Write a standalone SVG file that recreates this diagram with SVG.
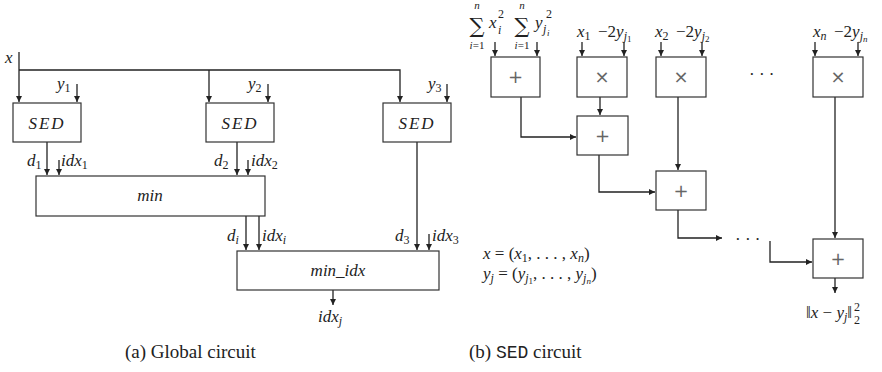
<svg xmlns="http://www.w3.org/2000/svg" width="882" height="372" viewBox="0 0 882 372">
<style>
.box{fill:#fff;stroke:#333;stroke-width:1.2}
.ln{fill:none;stroke:#222;stroke-width:1.3}
.ar{marker-end:url(#ah)}
text{font-family:"Liberation Serif","DejaVu Serif","Times New Roman",serif;fill:#222}
.m{font-style:italic;font-size:17px}
.r{font-size:17px}
.n{font-style:normal}
.op{font-family:"DejaVu Sans",sans-serif;font-size:18px;fill:#666}
.cap{font-size:19px}
.mono{font-family:"Liberation Mono","DejaVu Sans Mono",monospace}
.sm{font-size:11px}
.sub{font-size:12px}
.ss{font-size:9px}
.sig{font-family:"DejaVu Serif",serif;font-size:21px;font-style:normal}
</style>
<defs>
<marker id="ah" markerUnits="userSpaceOnUse" markerWidth="8" markerHeight="8" refX="6" refY="3" orient="auto">
<path d="M0,0 L6,3 L0,6 Z" fill="#222"/>
</marker>
</defs>

<g id="connectors">
<path class="ln ar" d="M19,52 V102"/>
<path class="ln ar" d="M19,70 H400 V102"/>
<path class="ln ar" d="M209,70 V102"/>
<path class="ln ar" d="M77,84 V102"/>
<path class="ln ar" d="M268,84 V102"/>
<path class="ln ar" d="M447,84 V102"/>
<path class="ln ar" d="M47,142 V175"/>
<path class="ln ar" d="M59,160 V175"/>
<path class="ln ar" d="M237,142 V175"/>
<path class="ln ar" d="M248,160 V175"/>
<path class="ln ar" d="M246,216 V250"/>
<path class="ln ar" d="M259,216 V250"/>
<path class="ln ar" d="M417,142 V250"/>
<path class="ln ar" d="M429,234 V250"/>
<path class="ln ar" d="M333,290 V305"/>

<path class="ln ar" d="M495,42 V56"/>
<path class="ln ar" d="M537,42 V56"/>
<path class="ln ar" d="M582,42 V56"/>
<path class="ln ar" d="M624,42 V56"/>
<path class="ln ar" d="M661,42 V56"/>
<path class="ln ar" d="M702,42 V56"/>
<path class="ln ar" d="M815,42 V56"/>
<path class="ln ar" d="M858,42 V56"/>
<path class="ln ar" d="M600,97 V115"/>
<path class="ln ar" d="M521,97 V137 H576"/>
<path class="ln ar" d="M678,97 V170"/>
<path class="ln ar" d="M599,155 V192 H655"/>
<path class="ln ar" d="M678,210 V238 H722"/>
<path class="ln ar" d="M770,241 V262 H812"/>
<path class="ln ar" d="M835,97 V238"/>
<path class="ln ar" d="M835,278 V293"/>
</g>

<g id="labels-left">
<text class="m" x="5" y="63">x</text>
<text class="m" x="57" y="89">y<tspan class="sub n" dy="3">1</tspan></text>
<text class="m" x="248" y="89">y<tspan class="sub n" dy="3">2</tspan></text>
<text class="m" x="428" y="89">y<tspan class="sub n" dy="3">3</tspan></text>
<text class="m" x="27" y="166">d<tspan class="sub n" dy="3">1</tspan></text>
<text class="m" x="61" y="166">idx<tspan class="sub n" dy="3">1</tspan></text>
<text class="m" x="214" y="166">d<tspan class="sub n" dy="3">2</tspan></text>
<text class="m" x="251" y="166">idx<tspan class="sub n" dy="3">2</tspan></text>
<text class="m" x="227" y="241">d<tspan class="sub" dy="3">i</tspan></text>
<text class="m" x="262" y="241">idx<tspan class="sub" dy="3">i</tspan></text>
<text class="m" x="395" y="241">d<tspan class="sub n" dy="3">3</tspan></text>
<text class="m" x="432" y="241">idx<tspan class="sub n" dy="3">3</tspan></text>
<text class="m" x="318" y="322">idx<tspan class="sub" dy="3">j</tspan></text>
</g>

<g id="sed1"><rect class="box" x="13" y="103" width="68" height="39"/><text class="m" x="47" y="129" text-anchor="middle" letter-spacing="2">SED</text></g>
<g id="sed2"><rect class="box" x="206" y="103" width="68" height="39"/><text class="m" x="240" y="129" text-anchor="middle" letter-spacing="2">SED</text></g>
<g id="sed3"><rect class="box" x="383" y="103" width="68" height="39"/><text class="m" x="417" y="129" text-anchor="middle" letter-spacing="2">SED</text></g>
<g id="min"><rect class="box" x="36" y="176" width="229" height="40"/><text class="m" x="150" y="201" text-anchor="middle">min</text></g>
<g id="min_idx"><rect class="box" x="237" y="251" width="202" height="39"/><text class="m" x="338" y="276" text-anchor="middle">min_idx</text></g>

<g id="labels-right">
<text class="sig" x="477" y="33" text-anchor="middle">∑</text>
<text class="m sm" x="477" y="9" text-anchor="middle">n</text>
<text class="m sm" x="477" y="49" text-anchor="middle">i<tspan class="n">=1</tspan></text>
<text class="m" x="489" y="28">x</text>
<text class="m sub" x="498" y="34">i</text>
<text class="sub" x="498" y="18">2</text>
<text class="sig" x="522" y="33" text-anchor="middle">∑</text>
<text class="m sm" x="522" y="9" text-anchor="middle">n</text>
<text class="m sm" x="522" y="49" text-anchor="middle">i<tspan class="n">=1</tspan></text>
<text class="m" x="535" y="28">y</text>
<text class="m sub" x="543" y="33">j</text>
<text class="m ss" x="547" y="36">i</text>
<text class="sub" x="546" y="18">2</text>

<text class="m" x="577" y="37">x<tspan class="sub n" dy="3">1</tspan></text>
<text class="m" x="598" y="37"><tspan class="n">−2</tspan>y<tspan class="sub" dy="3">j</tspan><tspan class="ss n" dy="2">1</tspan></text>
<text class="m" x="655" y="37">x<tspan class="sub n" dy="3">2</tspan></text>
<text class="m" x="676" y="37"><tspan class="n">−2</tspan>y<tspan class="sub" dy="3">j</tspan><tspan class="ss n" dy="2">2</tspan></text>
<text class="m" x="813" y="37">x<tspan class="sub" dy="3">n</tspan></text>
<text class="m" x="834" y="37"><tspan class="n">−2</tspan>y<tspan class="sub" dy="3">j</tspan><tspan class="ss" dy="2">n</tspan></text>

<text class="r" x="749" y="80">· · ·</text>
<text class="r" x="735" y="245">· · ·</text>

<text class="m" x="483" y="259">x <tspan class="n">= (</tspan>x<tspan class="sub n" dy="3">1</tspan><tspan class="n" dy="-3">, . . . , </tspan>x<tspan class="sub" dy="3">n</tspan><tspan class="n" dy="-3">)</tspan></text>
<text class="m" x="483" y="279">y<tspan class="sub" dy="3">j</tspan><tspan class="n" dy="-3"> = (</tspan>y<tspan class="sub" dy="3">j</tspan><tspan class="ss n" dy="2">1</tspan><tspan class="n" dy="-5">, . . . , </tspan>y<tspan class="sub" dy="3">j</tspan><tspan class="ss" dy="2">n</tspan><tspan class="n" dy="-5">)</tspan></text>

<text class="m" x="806" y="318"><tspan class="n">‖</tspan>x <tspan class="n">−</tspan> y<tspan class="sub" dy="3">j</tspan><tspan class="n" dy="-3">‖</tspan></text>
<text class="sub" x="854" y="311">2</text>
<text class="sub" x="854" y="324">2</text>
</g>

<g id="plus1"><rect class="box" x="491" y="57" width="49" height="40"/><text class="op" x="515.5" y="83" text-anchor="middle">+</text></g>
<g id="mul1"><rect class="box" x="577" y="57" width="50" height="40"/><text class="op" x="602" y="83" text-anchor="middle">×</text></g>
<g id="mul2"><rect class="box" x="656" y="57" width="50" height="40"/><text class="op" x="681" y="83" text-anchor="middle">×</text></g>
<g id="muln"><rect class="box" x="813" y="57" width="50" height="40"/><text class="op" x="838" y="83" text-anchor="middle">×</text></g>
<g id="plus2"><rect class="box" x="577" y="116" width="51" height="39"/><text class="op" x="602.5" y="142" text-anchor="middle">+</text></g>
<g id="plus3"><rect class="box" x="656" y="171" width="50" height="39"/><text class="op" x="681" y="197" text-anchor="middle">+</text></g>
<g id="plusn"><rect class="box" x="813" y="239" width="50" height="39"/><text class="op" x="838" y="265" text-anchor="middle">+</text></g>

<g id="captions">
<text class="cap" x="125" y="358">(a) Global circuit</text>
<text class="cap" x="469" y="358">(b) <tspan class="mono" font-size="18">SED</tspan> circuit</text>
</g>
</svg>
